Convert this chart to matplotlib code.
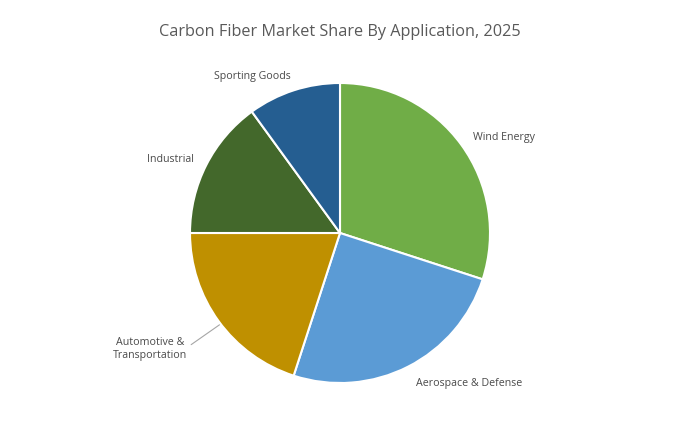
import numpy as np
import matplotlib
matplotlib.use("Agg")
from matplotlib import pyplot as plt

plt.rcParams['font.family'] = ['Open Sans', 'DejaVu Sans']

categories = ['Wind Energy', 'Aerospace & Defense', 'Automotive &\nTransportation',
              'Industrial', 'Sporting Goods']
shares = [30, 25, 20, 15, 10]
colors = ['#70AD47', '#5B9BD5', '#BF9000', '#43682B', '#255E91']

fig = plt.figure(figsize=(6.89, 4.39), dpi=100)
ax = fig.add_axes([190 / 689, 55 / 439, 300 / 689, 300 / 439])

wedges, _ = ax.pie(shares, colors=colors, startangle=90, counterclock=False,
                   radius=1.0, wedgeprops=dict(edgecolor='white', linewidth=1.5))
ax.set_xlim(-1, 1)
ax.set_ylim(-1, 1)
ax.set_aspect('equal')

# label placement: (radial distance, angle shift in degrees, horizontal alignment)
placement = [(1.10, 0, 'left'), (1.12, 0, 'left'), (1.48, -4.8, 'center'),
             (1.09, 0, 'right'), (1.20, 11, 'center')]

text_color = '#4a4a4a'
for w, label, (dist, shift, ha) in zip(wedges, categories, placement):
    mid_deg = (w.theta1 + w.theta2) / 2
    mid = np.deg2rad(mid_deg + shift)
    x, y = dist * np.cos(mid), dist * np.sin(mid)
    if '\n' in label:
        edge = np.deg2rad(mid_deg + 1.3)
        ex, ey = 1.01 * np.cos(edge), 1.01 * np.sin(edge)
        ax.annotate(label, xy=(ex, ey), xytext=(x, y),
                    ha='center', va='center', fontsize=7.7, color=text_color,
                    linespacing=1.3,
                    arrowprops=dict(arrowstyle='-', color='#A6A6A6', lw=0.8,
                                    shrinkA=1, shrinkB=0, relpos=(1, 0.5),
                                    connectionstyle='angle,angleA=0,angleB=35,rad=0'))
    else:
        ax.text(x, y, label, ha=ha, va='center', fontsize=7.7, color=text_color)

fig.text(0.4935, 1 - 32 / 439, 'Carbon Fiber Market Share By Application, 2025',
         ha='center', va='center', fontsize=11.7, color='#595959')

fig.savefig('out.png', dpi=100, facecolor='white')
